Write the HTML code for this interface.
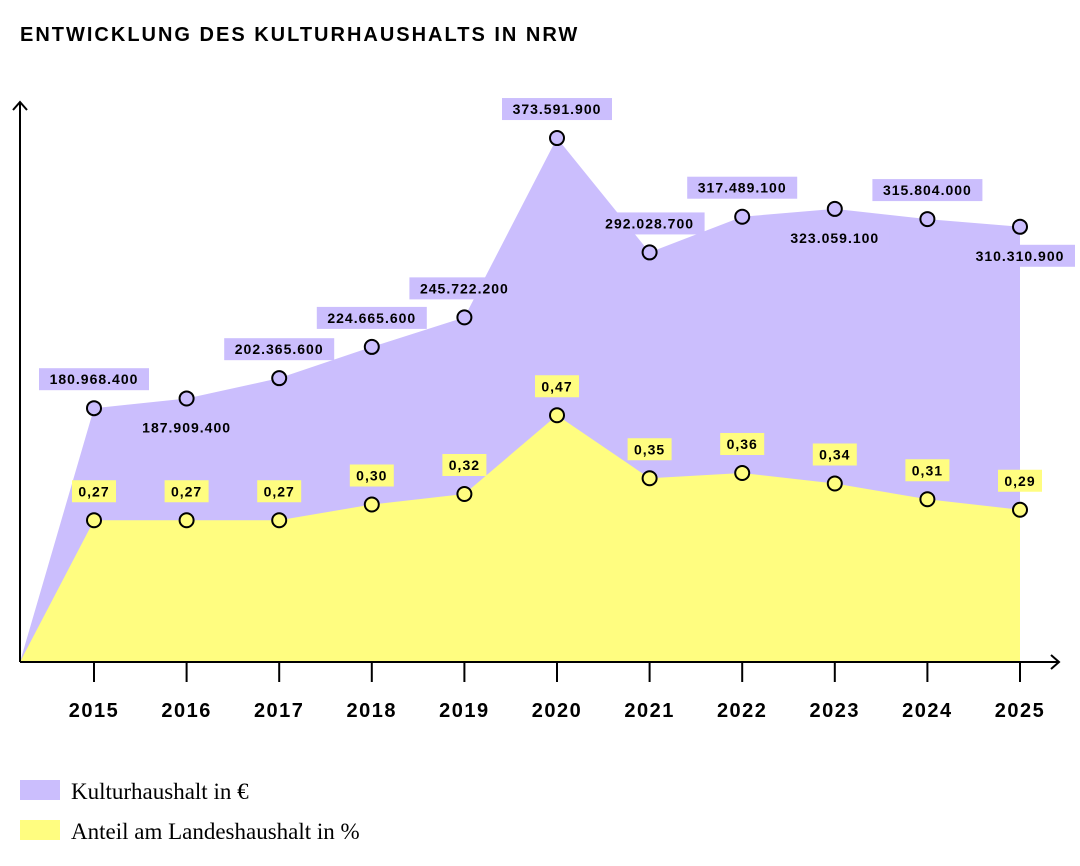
<!DOCTYPE html>
<html><head><meta charset="utf-8"><style>
body{margin:0;background:#fff;width:1080px;height:866px;overflow:hidden}
svg{display:block}
.t{font-family:"Liberation Sans",sans-serif;font-weight:bold}
</style></head><body>
<svg id="c" width="1080" height="866">
<text class="t" x="20" y="41" font-size="20" letter-spacing="2">ENTWICKLUNG DES KULTURHAUSHALTS IN NRW</text>
<g id="areas"></g>
<g id="axes"></g>
<g id="marks"></g>
<rect x="20" y="780" width="40" height="20" fill="#cbbefd"/>
<text x="71" y="799" font-size="23" font-family="Liberation Serif,serif">Kulturhaushalt in €</text>
<rect x="20" y="820" width="40" height="20" fill="#fffd80"/>
<text x="71" y="839" font-size="23" font-family="Liberation Serif,serif">Anteil am Landeshaushalt in %</text>
</svg>
<script>
const years=[2015,2016,2017,2018,2019,2020,2021,2022,2023,2024,2025];
const budget=[180968400,187909400,202365600,224665600,245722200,373591900,292028700,317489100,323059100,315804000,310310900];
const budgetLabels=["180.968.400","187.909.400","202.365.600","224.665.600","245.722.200","373.591.900","292.028.700","317.489.100","323.059.100","315.804.000","310.310.900"];
const budgetBelow=[false,true,false,false,false,false,false,false,true,false,true];
const share=[0.27,0.27,0.27,0.30,0.32,0.47,0.35,0.36,0.34,0.31,0.29];
const shareLabels=["0,27","0,27","0,27","0,30","0,32","0,47","0,35","0,36","0,34","0,31","0,29"];
const NS="http://www.w3.org/2000/svg";
const x0=20,y0=662;
const xs=i=>94+i*(1020-94)/(years.length-1);
const yB=v=>y0-v/1e6*1.4025;
const yS=v=>y0-v*525;
function mk(t,a,p){const e=document.createElementNS(NS,t);for(const k in a)e.setAttribute(k,a[k]);p.appendChild(e);return e;}
const areas=document.getElementById('areas'),axes=document.getElementById('axes'),marks=document.getElementById('marks');
function areaPath(vals,f){let d=`M${x0},${y0}`;vals.forEach((v,i)=>d+=` L${xs(i)},${f(v)}`);d+=` L${xs(vals.length-1)},${y0} Z`;return d;}
const pa=mk('path',{d:areaPath(budget,yB),fill:'#cbbefd'},areas);


const ya=mk('path',{d:areaPath(share,yS),fill:'#fffd80'},areas);


const ax=mk('path',{d:`M20,662 V102 M13,110 L20,102 L27,110 M20,662 H1059 M1051,655 L1059,662 L1051,669`,stroke:'#000','stroke-width':2,fill:'none'},axes);


years.forEach((y,i)=>{
  const tk=mk('line',{x1:xs(i),x2:xs(i),y1:662,y2:682,stroke:'#000','stroke-width':2},axes);
  
  
  const tl=mk('text',{x:xs(i),y:717,'text-anchor':'middle','font-size':20,'letter-spacing':1.5,class:'t'},axes);
  tl.textContent=y;
  
  
});
function label(cx,cy,txt,fill,w,name){
  const r=mk('rect',{x:cx-w/2,y:cy-11,width:w,height:22,fill:fill},marks);
  
  
  const t=mk('text',{x:cx,y:cy+5,'text-anchor':'middle','font-size':14,'letter-spacing':1,class:'t'},marks);
  t.textContent=txt;
  
  
}
budget.forEach((v,i)=>{
  const cx=xs(i),cy=yB(v);
  label(cx,budgetBelow[i]?cy+29:cy-29,budgetLabels[i],'#cbbefd',110,'kultur-value-label');
  const c=mk('circle',{cx:cx,cy:cy,r:7,fill:'#cbbefd',stroke:'#000','stroke-width':2},marks);
  
  
});
share.forEach((v,i)=>{
  const cx=xs(i),cy=yS(v);
  label(cx,cy-29,shareLabels[i],'#fffd80',44,'anteil-value-label');
  const c=mk('circle',{cx:cx,cy:cy,r:7,fill:'#fffd80',stroke:'#000','stroke-width':2},marks);
  
  
});
</script>
</body></html>
